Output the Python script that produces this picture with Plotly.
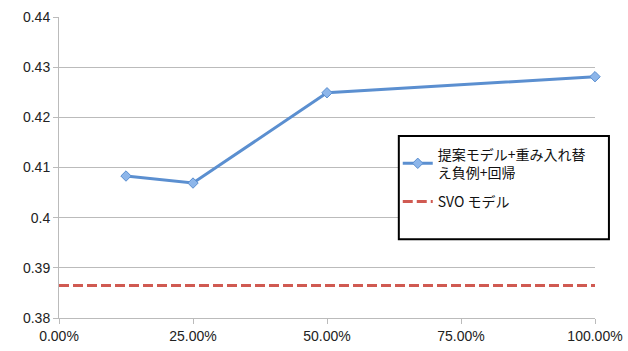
import plotly.graph_objects as go

x_prop = [0.125, 0.25, 0.5, 1.0]
y_prop = [0.4083, 0.4069, 0.4249, 0.4281]
x_svo = [0.0, 0.25, 0.5, 1.0]
y_svo = [0.3865, 0.3865, 0.3865, 0.3865]
name_prop = "提案モデル+重み入れ替<br>え負例+回帰"
name_svo = "SVO モデル"
y_ticks = [0.38, 0.39, 0.40, 0.41, 0.42, 0.43, 0.44]
x_ticks = [0.0, 0.25, 0.5, 0.75, 1.0]

FONT = "Liberation Sans, Arial, Noto Sans CJK JP, sans-serif"

fig = go.Figure()
fig.add_trace(go.Scatter(
    x=x_prop, y=y_prop, name=name_prop, mode="lines+markers", legendgroup="a",
    line=dict(color="#5B8FD0", width=3),
    marker=dict(symbol="diamond", size=8, color="#8DB6EA",
                line=dict(color="#5B8FD0", width=1)),
))
fig.add_trace(go.Scatter(
    x=x_svo, y=y_svo, name=name_svo, mode="lines", legendgroup="b",
    line=dict(color="#D05A52", width=3, dash="10px,4px"),
))

fig.update_layout(
    width=628, height=351,
    margin=dict(l=59, r=33, t=17, b=33, autoexpand=False),
    paper_bgcolor="white", plot_bgcolor="white",
    font=dict(family=FONT, size=14, color="#222"),
    showlegend=True,
    legend=dict(
        x=0.632, y=0.596, xanchor="left", yanchor="top",
        bgcolor="rgba(0,0,0,0)", borderwidth=0,
        font=dict(family="Noto Sans CJK JP, Liberation Sans, sans-serif", size=14, color="#111"),
        tracegroupgap=8, itemwidth=30,
    ),
    xaxis=dict(
        range=[0, 1.0], tickvals=x_ticks, tickformat=".2%",
        showgrid=False, zeroline=False,
        showline=True, linecolor="#bbbbbb", linewidth=1,
        ticks="outside", ticklen=5, tickcolor="#bbbbbb",
        tickfont=dict(size=14, color="#222"),
    ),
    yaxis=dict(
        range=[0.38, 0.44], tickvals=y_ticks,
        ticktext=["0.38", "0.39", "0.4", "0.41", "0.42", "0.43", "0.44"],
        showgrid=True, gridcolor="#bbbbbb", gridwidth=1, zeroline=False,
        showline=True, linecolor="#bbbbbb", linewidth=1,
        ticks="outside", ticklen=5, tickcolor="#bbbbbb",
        tickfont=dict(size=14, color="#222"),
    ),
    shapes=[dict(
        type="rect", xref="paper", yref="paper",
        x0=0.634, x1=1.026, y0=0.262, y1=0.605,
        line=dict(color="black", width=2), fillcolor="white", layer="above",
    )],
)
fig.update_traces(cliponaxis=False)

fig.write_html("out.html")
